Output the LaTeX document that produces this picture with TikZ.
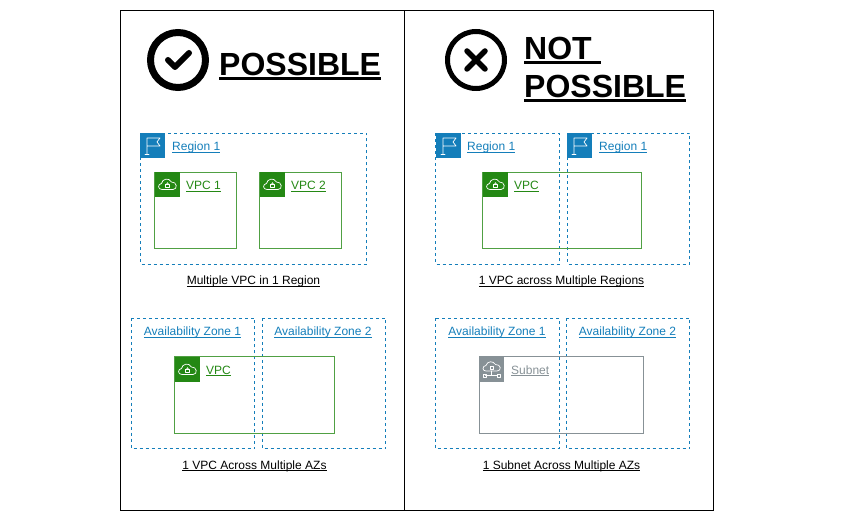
\documentclass[tikz,border=0pt]{standalone}
\usepackage{fontspec}
\setmainfont{Liberation Sans}
\definecolor{awsblue}{HTML}{147EBA}
\definecolor{awsgreen}{HTML}{248814}
\definecolor{awsgrey}{HTML}{879196}
\newsavebox\ulbox
% underlined text: #1 rule drop, #2 rule thickness, #3 text
\newcommand{\ulin}[3]{\sbox\ulbox{#3}\leavevmode\rlap{\rule[-#1]{\wd\ulbox}{#2}}\usebox\ulbox}
\newcommand{\sm}[1]{\fontsize{12}{14}\selectfont\ulin{2.2pt}{0.9pt}{#1}}
\tikzset{
  x=1pt,y=-1pt,
  frame/.style={draw=black,line width=1pt},
  zonebox/.style={draw=awsblue,line width=0.9pt,dash pattern=on 3pt off 3pt},
  vpcbox/.style={draw=awsgreen!80!white,line width=1pt},
  subnetbox/.style={draw=awsgrey,line width=1pt},
  lbl/.style={inner sep=0pt,anchor=base west,font=\fontsize{12}{14}\selectfont},
  lblc/.style={inner sep=0pt,anchor=base,font=\fontsize{12}{14}\selectfont},
  title/.style={inner sep=0pt,anchor=base west,font=\bfseries\fontsize{32}{36}\selectfont},
  glyph/.style={draw=white,line width=0.7pt,line join=round,line cap=round},
  pics/flag/.style={code={
    \fill[awsblue] (0,0) rectangle (25,25);
    \draw[glyph] (7,21) -- (7,5) -- (20,5) -- (17,9) -- (20,13) -- (7,13);
    \draw[glyph] (5,21) -- (9,21);
  }},
  pics/cloud/.style={code={
    \fill[awsgreen] (0,0) rectangle (25,25);
    \draw[glyph] (7,17.5) .. controls (2.5,17.5) and (2.5,12) .. (6.5,11.5)
       .. controls (7,7) and (14,5) .. (16.5,10) .. controls (22,9.5) and (23,17.5) .. (18,17.5) -- cycle;
    \draw[glyph,line width=0.6pt] (10.5,12.5) rectangle (14.5,15.5);
    \draw[glyph,line width=0.6pt] (11.3,12.5) .. controls (11.3,10) and (13.7,10) .. (13.7,12.5);
  }},
  pics/subnet/.style={code={
    \fill[awsgrey] (0,0) rectangle (25,25);
    \draw[glyph] (7,14) .. controls (3,14) and (3,9) .. (7,8.5)
       .. controls (8,4) and (14.5,3.5) .. (16.5,7.5) .. controls (22,7) and (23,14) .. (18,14) -- cycle;
    \draw[glyph,line width=0.6pt] (12.5,14) -- (12.5,18.5);
    \draw[glyph,line width=0.6pt] (6.5,18.5) -- (18.5,18.5);
    \draw[glyph,line width=0.6pt] (4,17) rectangle (7,20);
    \draw[glyph,line width=0.6pt] (18,17) rectangle (21,20);
    \draw[glyph,line width=0.6pt] (11,9.5) rectangle (14,12);
  }},
}
\begin{document}
\begin{tikzpicture}
\useasboundingbox (0,0) rectangle (841,521);
% frame
\draw[frame] (120.5,10.5) rectangle (713.5,510.5);
\draw[frame] (404.5,10.5) -- (404.5,510.5);

% headings
\draw[line width=7pt] (178,60) circle (27.5);
\draw[line width=6pt,line cap=round,line join=round] (168,60) -- (175,67) -- (189,53);
\node[title] (tp) at (219,76) {\ulin{3.6pt}{2.8pt}{POSSIBLE}};
\draw[line width=5pt] (476,60) circle (28.5);
\draw[line width=5.5pt,line cap=round] (467,51) -- (485,69) (485,51) -- (467,69);
\node[title] (tn1) at (524,60) {\ulin{3.6pt}{2.8pt}{NOT\ }};
\node[title] (tn2) at (524,98) {\ulin{3.6pt}{2.8pt}{POSSIBLE}};

% top left
\draw[zonebox] (140.5,133.5) rectangle (366.5,264.5);
\pic at (140,133) {flag};
\node[lbl,text=awsblue] (r1) at (172,151) {\sm{Region 1}};
\draw[vpcbox] (154.5,172.5) rectangle (236.5,249);
\pic at (155,172) {cloud};
\node[lbl,text=awsgreen] (v1) at (186,190) {\sm{VPC 1}};
\draw[vpcbox] (259.5,172.5) rectangle (341.5,249);
\pic at (260,172) {cloud};
\node[lbl,text=awsgreen] (v2) at (291,190) {\sm{VPC 2}};
\node[lblc] (c1) at (253.5,285) {\sm{Multiple VPC in 1 Region}};

% top right
\draw[zonebox] (435.5,133.5) rectangle (559,264.5);
\draw[zonebox] (567.5,133.5) rectangle (689.5,264.5);
\draw[vpcbox] (482.5,172.5) rectangle (641.5,249);
\pic at (436,133) {flag};
\pic at (567,133) {flag};
\node[lbl,text=awsblue] (r2) at (467,151) {\sm{Region 1}};
\node[lbl,text=awsblue] (r3) at (599,151) {\sm{Region 1}};
\pic at (483,172) {cloud};
\node[lbl,text=awsgreen] (v3) at (514,190) {\sm{VPC}};
\node[lblc] (c2) at (561.5,285) {\sm{1 VPC across Multiple Regions}};

% bottom left
\draw[zonebox] (131.5,318.5) rectangle (254.5,448.5);
\draw[zonebox] (262.5,318.5) rectangle (385.5,448.5);
\node[lblc,text=awsblue] (a1) at (192.5,336) {\sm{Availability Zone 1}};
\node[lblc,text=awsblue] (a2) at (323,336) {\sm{Availability Zone 2}};
\draw[vpcbox] (174.5,356.5) rectangle (334,433.5);
\pic at (175,357) {cloud};
\node[lbl,text=awsgreen] (v4) at (206,374) {\sm{VPC}};
\node[lblc] (c3) at (254.5,469) {\sm{1 VPC Across Multiple AZs}};

% bottom right
\draw[zonebox] (435.5,318.5) rectangle (559,448.5);
\draw[zonebox] (566.5,318.5) rectangle (689.5,448.5);
\node[lblc,text=awsblue] (a3) at (497,336) {\sm{Availability Zone 1}};
\node[lblc,text=awsblue] (a4) at (627.5,336) {\sm{Availability Zone 2}};
\draw[subnetbox] (479.5,356.5) rectangle (643.5,433.5);
\pic at (479,357) {subnet};
\node[lbl,text=awsgrey] (s1) at (511,374) {\sm{Subnet}};
\node[lblc] (c4) at (561.5,469) {\sm{1 Subnet Across Multiple AZs}};
\end{tikzpicture}
\end{document}
